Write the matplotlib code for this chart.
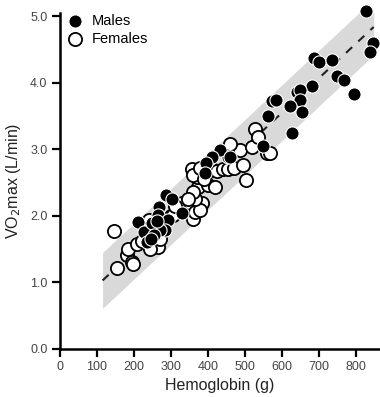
import matplotlib
matplotlib.use("Agg")
import matplotlib.pyplot as plt
import numpy as np

plt.rcParams['font.family'] = ['Liberation Sans', 'DejaVu Sans']

# Data (hemoglobin g, VO2max L/min)
males_x = [827, 847, 838, 687, 700, 734, 750, 768, 795, 680, 640, 650, 649, 622, 653,
           572, 584, 563, 626, 548, 455, 432, 412, 459, 394, 392, 331, 286, 302, 268,
           266, 291, 284, 270, 212, 228, 248, 234, 255, 262, 245]
males_y = [5.08, 4.60, 4.46, 4.38, 4.32, 4.35, 4.11, 4.05, 3.84, 3.95, 3.86, 3.90, 3.75, 3.65, 3.56,
           3.73, 3.74, 3.50, 3.24, 3.05, 2.88, 2.99, 2.89, 2.88, 2.79, 2.65, 2.05, 2.31, 2.26, 2.14,
           2.01, 1.94, 1.79, 1.79, 1.91, 1.76, 1.89, 1.61, 1.72, 1.92, 1.66]

females_x = [146, 153, 180, 194, 198, 185, 207, 222, 241, 252, 266, 243, 258, 235, 270,
             280, 300, 306, 329, 351, 360, 365, 383, 378, 365, 374, 360, 401, 419, 356,
             369, 360, 378, 410, 425, 440, 455, 470, 486, 495, 503, 459, 518, 527, 536,
             559, 568, 390, 345, 310, 265]
females_y = [1.77, 1.21, 1.41, 1.31, 1.28, 1.51, 1.58, 1.62, 1.94, 1.60, 1.54, 1.51, 1.70, 1.80, 1.66,
             1.84, 2.00, 2.02, 2.19, 2.19, 1.96, 2.06, 2.19, 2.09, 2.26, 2.44, 2.36, 2.46, 2.44, 2.71,
             2.58, 2.62, 2.72, 2.70, 2.68, 2.71, 2.70, 2.72, 2.99, 2.76, 2.54, 3.08, 3.04, 3.31, 3.19,
             2.94, 2.94, 2.55, 2.25, 2.15, 1.85]

# Regression line and band
fit_x_range = [115, 848]
fit_intercept = 0.432
fit_slope = 0.0052
band_halfwidth = 0.42

xticks = [0, 100, 200, 300, 400, 500, 600, 700, 800]
yticks = [0.0, 1.0, 2.0, 3.0, 4.0, 5.0]

fig = plt.figure(figsize=(3.8, 3.97), dpi=100)
ax = fig.add_axes([0.158, 0.121, 0.842, 0.846])

fx = np.array(fit_x_range, dtype=float)
fy = fit_intercept + fit_slope * fx
ax.fill_between(fx, fy - band_halfwidth, fy + band_halfwidth, color='#d9d9d9', lw=0, zorder=1)
ax.plot(fx, fy, color='#222222', lw=1.5, dashes=(4, 4), zorder=2)

MS = 90
ax.scatter(females_x, females_y, s=MS, facecolor='white', edgecolor='black', linewidths=1.3,
           zorder=3, clip_on=False)
ax.scatter(males_x, males_y, s=MS, facecolor='black', edgecolor='white', linewidths=0.8,
           zorder=4, clip_on=False)

ax.set_xlim(0, 865)
ax.set_ylim(0, 5.05)
ax.set_xticks(xticks)
ax.set_xticklabels([str(t) for t in xticks])
ax.set_yticks(yticks)
ax.set_yticklabels([f"{t:.1f}" for t in yticks])

for s in ['top', 'right']:
    ax.spines[s].set_visible(False)
for s in ['left', 'bottom']:
    ax.spines[s].set_linewidth(1.8)
ax.tick_params(direction='out', length=6, width=1.6, labelsize=9, labelcolor='#444444', pad=3)

ax.set_xlabel('Hemoglobin (g)', fontsize=11.5, color='#222222', labelpad=3.5)
ax.set_ylabel('VO$_2$max (L/min)', fontsize=11.5, color='#222222', labelpad=5)

h_f = ax.scatter([], [], s=MS, facecolor='white', edgecolor='black', linewidths=1.3)
h_m = ax.scatter([], [], s=MS, facecolor='black', edgecolor='white', linewidths=0.8)
ax.legend([h_m, h_f], ['Males', 'Females'], loc='upper left', bbox_to_anchor=(-0.03, 1.028),
          frameon=False, fontsize=10.5, handletextpad=0.1, labelspacing=0.3, borderaxespad=0.3)

fig.savefig('out.png', dpi=100)
